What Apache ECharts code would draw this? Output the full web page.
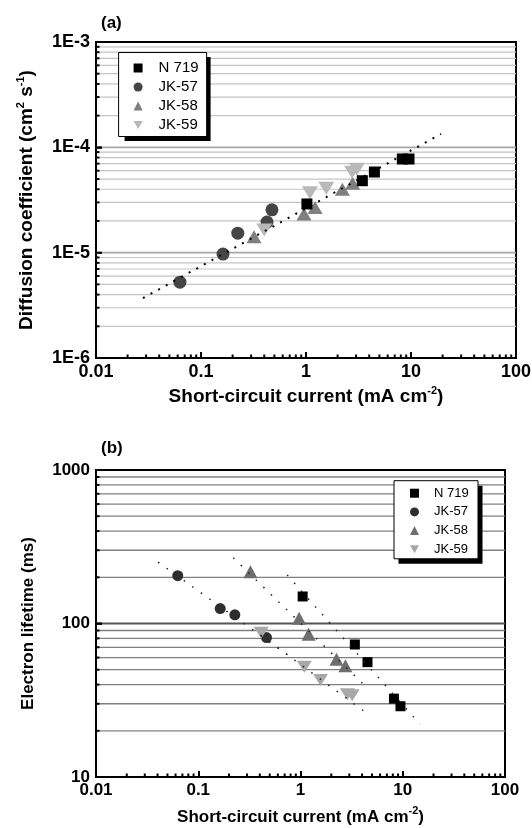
<!DOCTYPE html>
<html><head><meta charset="utf-8">
<script src="https://cdn.jsdelivr.net/npm/echarts@6/dist/echarts.min.js"></script>
<style>html,body{margin:0;padding:0;background:#fff}#c{width:532px;height:828px}</style>
</head><body><div id="c"></div>
<script>
// ---------- data ----------
const seriesNames = ['N 719', 'JK-57', 'JK-58', 'JK-59'];
const xTickValues = [0.01, 0.1, 1, 10, 100];
const xTickLabels = ['0.01', '0.1', '1', '10', '100'];
const yTickValuesA = [1e-6, 1e-5, 1e-4, 1e-3];
const yTickLabelsA = ['1E-6', '1E-5', '1E-4', '1E-3'];
const yTickValuesB = [10, 100, 1000];
const yTickLabelsB = ['10', '100', '1000'];
const minorMultipliers = [2, 3, 4, 5, 6, 7, 8, 9];

// panel (a): diffusion coefficient
const aN719x = [1.02, 3.44, 4.48, 8.27, 9.57];
const aN719y = [2.9e-5, 4.82e-5, 5.83e-5, 7.75e-5, 7.75e-5];
const aJK57x = [0.063, 0.162, 0.224, 0.425, 0.474];
const aJK57y = [5.25e-6, 9.7e-6, 1.53e-5, 1.95e-5, 2.55e-5];
const aJK58x = [0.32, 0.957, 1.22, 2.22, 2.78];
const aJK58y = [1.42e-5, 2.33e-5, 2.68e-5, 4.0e-5, 4.56e-5];
const aJK59x = [0.40, 1.09, 1.56, 2.75, 3.05];
const aJK59y = [1.64e-5, 3.71e-5, 4.08e-5, 5.8e-5, 6.2e-5];
const aFitX = [0.028, 19.3];
const aFitY = [3.7e-6, 1.34e-4];

// panel (b): electron lifetime
const bN719x = [1.05, 3.4, 4.52, 8.2, 9.5];
const bN719y = [150, 73, 56, 32.4, 28.9];
const bJK57x = [0.063, 0.164, 0.228, 0.465];
const bJK57y = [205, 125, 114, 81];
const bJK58x = [0.324, 0.97, 1.2, 2.25, 2.75];
const bJK58y = [217, 108, 85, 58.6, 53];
const bJK59x = [0.413, 1.09, 1.57, 2.87, 3.2];
const bJK59y = [86.9, 52.2, 42.8, 34.6, 34.1];
const bFitN719x = [0.741, 14.7], bFitN719y = [207, 22.1];
const bFitJK57x = [0.0405, 0.798], bFitJK57y = [251, 60.6];
const bFitJK58x = [0.22, 4.32], bFitJK58y = [268, 39];
const bFitJK59x = [0.407, 4.16], bFitJK59y = [84, 26.9];

// ---------- helpers ----------
const FONT = 'Liberation Sans, Arial, sans-serif';
const zip = (xs, ys) => xs.map((x, i) => [x, ys[i]]);
const lbl = (vals, labs) => v => {
  const i = vals.findIndex(t => Math.abs(Math.log10(t) - Math.log10(v)) < 1e-6);
  return i >= 0 ? labs[i] : '';
};
function minorValues(majors) {
  const out = [];
  for (let k = 0; k < majors.length - 1; k++) {
    minorMultipliers.forEach(m => out.push(m * majors[k]));
  }
  return out;
}
function hGridData(xMin, majors) {
  const d = minorValues(majors).map(v => [xMin, v, 0]);
  majors.slice(1, -1).forEach(v => d.push([xMin, v, 1]));
  return d;
}
function xTickData(yMin) {
  return minorValues(xTickValues).map(v => [v, yMin]);
}
function hGridRender(xMax, st) {
  return function (params, api) {
    const v = api.value(1), major = api.value(2);
    const a = api.coord([api.value(0), v]);
    const b = api.coord([xMax, v]);
    return {
      type: 'group', children: [
        { type: 'line', shape: { x1: a[0], y1: a[1], x2: b[0], y2: b[1] },
          style: { stroke: major ? st.majorColor : st.color, lineWidth: major ? st.majorWidth : st.width } },
        { type: 'line', shape: { x1: a[0], y1: a[1], x2: a[0] + (major ? 6 : 3.5), y2: a[1] },
          style: { stroke: '#000', lineWidth: 2 } }
      ]
    };
  };
}
function xTickRender(params, api) {
  const p = api.coord([api.value(0), api.value(1)]);
  return { type: 'line', shape: { x1: p[0], y1: p[1], x2: p[0], y2: p[1] - 3.5 }, style: { stroke: '#000', lineWidth: 2 } };
}

const boldText = (size) => ({ fontSize: size, fontWeight: 'bold', fontFamily: FONT, color: '#000' });
const nameRich = (size) => ({
  b: Object.assign(boldText(size), { lineHeight: 24 }),
  s: { fontSize: 11, fontWeight: 'bold', fontFamily: FONT, color: '#000', verticalAlign: 'top', lineHeight: 11 }
});

function xAxisCfg(gi, nameGap, labelSize, nameSize) {
  return {
    type: 'log', logBase: 10, min: 0.01, max: 100, gridIndex: gi,
    axisLine: { show: true, lineStyle: { color: '#000', width: 2 } },
    axisTick: { show: true, inside: true, length: 6, lineStyle: { color: '#000', width: 2 } },
    minorTick: { show: false },
    axisLabel: Object.assign(boldText(labelSize), { margin: 5, formatter: lbl(xTickValues, xTickLabels) }),
    splitLine: { show: false },
    name: '{b|Short-circuit current (mA cm}{s|-2}{b|)}',
    nameLocation: 'middle', nameGap: nameGap, nameMoveOverlap: false,
    nameTextStyle: { rich: nameRich(nameSize) }
  };
}
function yAxisCfg(gi, min, max, vals, labs, name, nameGap, size, nameSize) {
  return {
    type: 'log', logBase: 10, min: min, max: max, gridIndex: gi,
    axisLine: { show: true, lineStyle: { color: '#000', width: 2 } },
    axisTick: { show: true, inside: true, length: 6, lineStyle: { color: '#000', width: 2 } },
    axisLabel: Object.assign(boldText(size), { margin: 6, formatter: lbl(vals, labs) }),
    splitLine: { show: false },
    name: name, nameLocation: 'middle', nameGap: nameGap, nameMoveOverlap: false,
    nameTextStyle: { rich: nameRich(nameSize) }
  };
}
function scatter(name, gi, xs, ys, symbol, size, color, rot) {
  return {
    type: 'scatter', name: name, xAxisIndex: gi, yAxisIndex: gi, data: zip(xs, ys),
    symbol: symbol, symbolSize: size, symbolRotate: rot || 0,
    itemStyle: { color: color, opacity: 1 }, z: 3, silent: true
  };
}
function fit(gi, xs, ys, width, dash, color) {
  return {
    type: 'line', name: 'fit', xAxisIndex: gi, yAxisIndex: gi, data: zip(xs, ys),
    symbol: 'none', lineStyle: { color: color, width: width, type: dash, cap: 'butt' }, z: 5, silent: true
  };
}
// legend box geometry (px)
const LA = { left: 118.6, top: 52.5, pad: [8, 8, 4, 15], fs: 15, gap: 4, textPad: 11, textW: 38, sx: 6, sy: 4.5 };
const LB = { left: 394, top: 480.7, pad: [6, 8, 3, 16], fs: 13, gap: 5.7, textPad: 10, textW: 36, sx: 4.5, sy: 5 };
const ICON = 9;
function legendSize(L) {
  const w = L.pad[3] + ICON + 5 + L.textPad + L.textW + L.pad[1];
  const h = L.pad[0] + 4 * L.fs + 3 * L.gap + L.pad[2];
  return [w, h];
}
function legendCfg(L, colors, syms) {
  return {
    orient: 'vertical', left: L.left, top: L.top, padding: L.pad, itemGap: L.gap,
    itemWidth: ICON, itemHeight: ICON, z: 10,
    backgroundColor: '#fff', borderColor: '#000', borderWidth: 1, borderRadius: 0,
    textStyle: { fontSize: L.fs, lineHeight: L.fs, width: L.textW, fontFamily: FONT, color: '#000', padding: [0, 0, 0, L.textPad] },
    selectedMode: false,
    data: seriesNames.map((n, i) => ({ name: n, icon: syms[i], itemStyle: { color: colors[i] } }))
  };
}
function shadowRect(L) {
  const [w, h] = legendSize(L);
  return { type: 'rect', z: 9, silent: true, shape: { x: L.left + L.sx, y: L.top + L.sy, width: w, height: h }, style: { fill: '#000' } };
}

const colA = ['#000000', '#454545', '#7f7f7f', '#b8b8b8'];
const colB = ['#000000', '#2e2e2e', '#6e6e6e', '#a8a8a8'];
const legendSyms = ['rect', 'circle', 'triangle', 'path://M0,0L10,0L5,9Z'];

const chart = echarts.init(document.getElementById('c'), null, { renderer: 'canvas' });
chart.setOption({
  backgroundColor: '#fff',
  animation: false,
  title: [
    { text: '(a)', left: 101, top: 15, padding: 0, textStyle: boldText(17) },
    { text: '(b)', left: 101, top: 440, padding: 0, textStyle: boldText(17) }
  ],
  grid: [
    { left: 96, top: 42, width: 420, height: 316, show: true, borderColor: '#000', borderWidth: 2, backgroundColor: 'transparent', containLabel: false, outerBoundsMode: 'none' },
    { left: 96, top: 470, width: 409, height: 307, show: true, borderColor: '#000', borderWidth: 2, backgroundColor: 'transparent', containLabel: false, outerBoundsMode: 'none' }
  ],
  xAxis: [xAxisCfg(0, 27, 18, 19), xAxisCfg(1, 28, 17, 17)],
  yAxis: [
    yAxisCfg(0, 1e-6, 1e-3, yTickValuesA, yTickLabelsA,
      '{b|Diffusion coefficient (cm}{s|2}{b| s}{s|-1}{b|)}', 57, 18, 19),
    yAxisCfg(1, 10, 1000, yTickValuesB, yTickLabelsB,
      '{b|Electron lifetime (ms)}', 56, 17, 17)
  ],
  legend: [legendCfg(LA, colA, legendSyms), legendCfg(LB, colB, legendSyms)],
  graphic: [shadowRect(LA), shadowRect(LB)],
  series: [
    { type: 'custom', name: 'gridA', xAxisIndex: 0, yAxisIndex: 0, z: 1, silent: true,
      data: hGridData(0.01, yTickValuesA), encode: { x: 0, y: 1 },
      renderItem: hGridRender(100, { color: '#c4c4c4', width: 1.2, majorColor: '#a8a8a8', majorWidth: 1.6 }) },
    { type: 'custom', name: 'ticksXA', xAxisIndex: 0, yAxisIndex: 0, z: 1, silent: true,
      data: xTickData(1e-6), encode: { x: 0, y: 1 }, renderItem: xTickRender },
    { type: 'custom', name: 'gridB', xAxisIndex: 1, yAxisIndex: 1, z: 1, silent: true,
      data: hGridData(0.01, yTickValuesB), encode: { x: 0, y: 1 },
      renderItem: hGridRender(100, { color: '#808080', width: 1.3, majorColor: '#555', majorWidth: 2 }) },
    { type: 'custom', name: 'ticksXB', xAxisIndex: 1, yAxisIndex: 1, z: 1, silent: true,
      data: xTickData(10), encode: { x: 0, y: 1 }, renderItem: xTickRender },

    scatter('JK-57', 0, aJK57x, aJK57y, 'circle', 13, colA[1]),
    scatter('JK-58', 0, aJK58x, aJK58y, 'triangle', [15, 13], colA[2]),
    scatter('JK-59', 0, aJK59x, aJK59y, 'triangle', [16, 13], colA[3], 180),
    scatter('N 719', 0, aN719x, aN719y, 'rect', 11, colA[0]),
    fit(0, aFitX, aFitY, 2, [2, 6.7], '#000'),

    scatter('JK-57', 1, bJK57x, bJK57y, 'circle', 11, colB[1]),
    scatter('JK-58', 1, bJK58x, bJK58y, 'triangle', [14, 13], colB[2]),
    scatter('JK-59', 1, bJK59x, bJK59y, 'triangle', [15, 12], colB[3], 180),
    scatter('N 719', 1, bN719x, bN719y, 'rect', 10, colB[0]),
    fit(1, bFitN719x, bFitN719y, 1.5, [1.5, 9], '#222'),
    fit(1, bFitJK57x, bFitJK57y, 1.5, [1.5, 9], '#222'),
    fit(1, bFitJK58x, bFitJK58y, 1.5, [1.5, 9], '#222'),
    fit(1, bFitJK59x, bFitJK59y, 1.5, [1.5, 9], '#222')
  ]
});
</script></body></html>
